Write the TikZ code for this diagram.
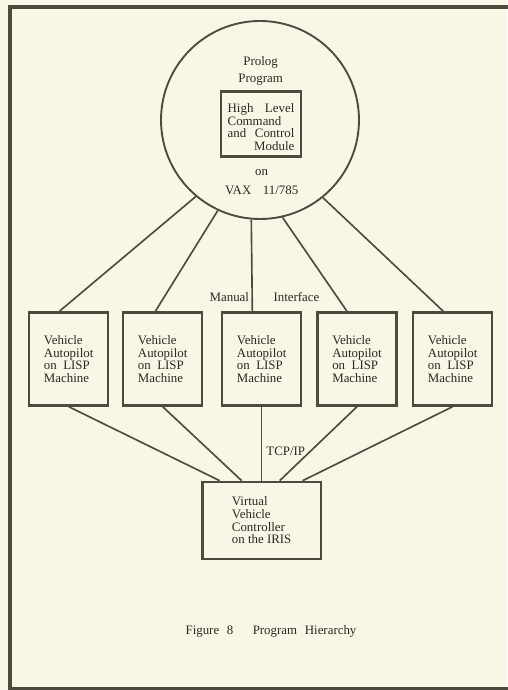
\documentclass[tikz,border=0pt]{standalone}
\usepackage{fontspec}
\setmainfont{Liberation Serif}
\usetikzlibrary{positioning}
\definecolor{paper}{RGB}{248,246,228}
\definecolor{ink}{RGB}{78,74,62}

\begin{document}
\begin{tikzpicture}[
  font=\fontsize{11}{10.8}\selectfont,
  text=ink!55!black,
  apbox/.style={draw=ink, line width=2pt, align=left, minimum width=2.37cm, minimum height=2.79cm, inner sep=2pt},
  ctrlbox/.style={draw=ink, line width=2pt, align=left, minimum width=3.54cm, minimum height=2.31cm, inner sep=2pt},
  link/.style={draw=ink, line width=1.4pt}
]
\useasboundingbox (0,0) rectangle (15.21,20.7);
\fill[paper] (0,0) rectangle (15.21,20.7);
\draw[ink, line width=3.8pt, line join=miter] (15.6,20.49) -- (0.30,20.49) -- (0.30,0.03) -- (15.6,0.03);
\node[draw=ink, line width=1.6pt, circle, minimum size=5.94cm, inner sep=0pt] (vax) at (7.80,17.10) {};
\node[draw=ink, line width=2pt, minimum width=2.4cm, minimum height=1.95cm, text width=2.0cm, align=left] (hlcc) at (7.83,16.98) {\rule{0pt}{13pt}High\hfill Level\\Command\\and\hfill Control\\\hfill Module\hfill};
\node[align=center] (prolog) at (7.82,18.58) {Prolog\\[3.7pt]Program};
\node[align=center] (on) at (7.85,15.24) {on\\[6pt]VAX\hspace{0.9em}11/785};
\node[apbox] (ap1) at (2.06,9.93) {Vehicle\\Autopilot\\on\ \ LISP\\Machine};
\node[apbox] (ap2) at (4.88,9.93) {Vehicle\\Autopilot\\on\ \ LISP\\Machine};
\node[apbox] (ap3) at (7.85,9.93) {Vehicle\\Autopilot\\on\ \ LISP\\Machine};
\node[apbox] (ap4) at (10.71,9.93) {Vehicle\\Autopilot\\on\ \ LISP\\Machine};
\node[apbox] (ap5) at (13.58,9.93) {Vehicle\\Autopilot\\on\ \ LISP\\Machine};
\node[ctrlbox] (vvc) at (7.85,5.09) {Virtual\\Vehicle\\Controller\\on the IRIS};
\draw[link] (vax.230) -- ([xshift=-0.28cm]ap1.north);
\draw[link] (vax.245) -- ([xshift=-0.22cm]ap2.north);
\draw[link] (vax.265) -- node[pos=0.84, left, inner sep=2pt] {Manual} node[pos=0.84, right, xshift=0.5cm] {Interface} ([xshift=-0.28cm]ap3.north);
\draw[link] (vax.283) -- ([xshift=-0.30cm]ap4.north);
\draw[link] (vax.309) -- ([xshift=-0.28cm]ap5.north);
\draw[link] (ap1.south) -- ([xshift=-1.26cm]vvc.north);
\draw[link] (ap2.south) -- ([xshift=-0.60cm]vvc.north);
\draw[link] (ap3.south) -- node[pos=0.6, right] {TCP/IP} (vvc.north);
\draw[link] (ap4.south) -- ([xshift=0.54cm]vvc.north);
\draw[link] (ap5.south) -- ([xshift=1.23cm]vvc.north);
\node (caption) at (8.13,1.77) {Figure\hspace{0.6em}8\hspace{1.5em}Program\hspace{0.6em}Hierarchy};
\end{tikzpicture}
\end{document}
